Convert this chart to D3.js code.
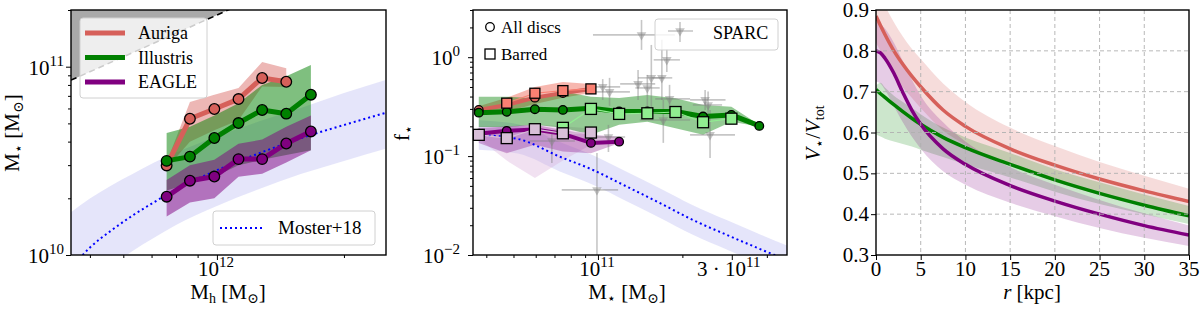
<!DOCTYPE html>
<html>
<head>
<meta charset="utf-8">
<script src="https://cdn.jsdelivr.net/npm/d3@7"></script>
<style>
body { margin: 0; background: #fff; }
svg text { font-family: "Liberation Serif", "DejaVu Serif", serif; fill: #000; }
</style>
</head>
<body>
<script>
// ---------- panel 1 : stellar mass vs halo mass ----------
const mhBins = [7.6e11, 8.63e11, 9.86e11, 1.125e12, 1.28e12, 1.46e12, 1.67e12];
const aurigaMs = [2.99e10, 5.29e10, 5.96e10, 6.73e10, 8.71e10, 8.32e10];
const aurigaMsLo = [2.9e10, 4.0e10, 4.6e10, 5.2e10, 7.85e10, 7.8e10];
const aurigaMsHi = [3.1e10, 6.5e10, 7.1e10, 7.7e10, 1.06e11, 9.8e10];
const illustrisMs = [3.16e10, 3.33e10, 4.18e10, 5.02e10, 5.89e10, 5.63e10, 7.1e10];
const illustrisMsLo = [2.2e10, 2.4e10, 2.6e10, 3.0e10, 3.2e10, 3.4e10, 3.6e10];
const illustrisMsHi = [4.45e10, 4.8e10, 5.5e10, 6.4e10, 8.0e10, 8.9e10, 1.02e11];
const eagleMs = [2.04e10, 2.48e10, 2.61e10, 3.23e10, 3.23e10, 3.91e10, 4.53e10];
const eagleMsLo = [1.6e10, 1.9e10, 2.0e10, 2.6e10, 2.7e10, 3.1e10, 3.6e10];
const eagleMsHi = [2.5e10, 3.0e10, 3.2e10, 3.9e10, 4.1e10, 4.8e10, 5.5e10];
const mosterMh = [4.47e11, 5.01e11, 5.62e11, 6.31e11, 7.08e11, 7.94e11, 1e12, 1.26e12, 1.58e12, 2e12, 2.51e12];
const mosterMs = [8.3e9, 1.1e10, 1.35e10, 1.62e10, 1.9e10, 2.21e10, 2.82e10, 3.47e10, 4.17e10, 4.9e10, 5.69e10];
const mosterMsLo = [5.37e9, 7.08e9, 8.71e9, 1.05e10, 1.23e10, 1.43e10, 1.82e10, 2.24e10, 2.69e10, 3.16e10, 3.67e10];
const mosterMsHi = [1.66e10, 2.0e10, 2.34e10, 2.69e10, 3.09e10, 3.47e10, 4.27e10, 5.13e10, 6.03e10, 7.24e10, 8.51e10];
const baryonFrac = 0.188;

// ---------- panel 2 : f_star vs stellar mass ----------
const msBins = [3.76e10, 4.73e10, 5.96e10, 7.5e10, 9.44e10, 1.19e11, 1.5e11, 1.89e11, 2.37e11, 2.99e11, 3.76e11];
const aurigaF = [0.293, 0.329, 0.39, 0.435, 0.478];
const aurigaFLo = [0.267, 0.28, 0.337, 0.39, 0.435];
const aurigaFHi = [0.32, 0.39, 0.5, 0.56, 0.537];
const aurigaBarF = [null, 0.343, 0.432, 0.459, 0.478];
const illustrisF = [0.275, 0.28, 0.298, 0.293, 0.305, 0.282, 0.282, 0.282, 0.251, 0.261, 0.202];
const illustrisFLo = [0.197, 0.197, 0.207, 0.193, 0.164, 0.207, 0.223, 0.191, 0.164, 0.223, 0.199];
const illustrisFHi = [0.399, 0.399, 0.385, 0.449, 0.399, 0.387, 0.415, 0.385, 0.329, 0.316, 0.207];
const illustrisBarF = [null, null, null, 0.193, 0.30, 0.267, 0.271, 0.279, 0.22, 0.239, null];
const eagleF = [0.168, 0.18, 0.186, 0.168, 0.136, 0.14];
const eagleFLo = [0.136, 0.107, 0.13, 0.111, 0.107, 0.135];
const eagleFHi = [0.191, 0.199, 0.207, 0.184, 0.164, 0.157];
const eagleBarF = [0.164, 0.152, 0.187, 0.17, 0.173];
const eagleBarFLo = [0.15, 0.09, 0.06, 0.09, 0.13];
const eagleBarFHi = [0.2, 0.2, 0.21, 0.2, 0.19];
const mosterMs2 = [3.76e10, 5.18e10, 7.31e10, 9.6e10, 1.27e11, 1.66e11, 2.18e11, 2.89e11, 3.7e11, 4.79e11];
const mosterF = [0.164, 0.149, 0.0987, 0.0724, 0.049, 0.0336, 0.0226, 0.0159, 0.0118, 0.0087];
const mosterFLo = [0.116, 0.106, 0.07, 0.0513, 0.0348, 0.0238, 0.016, 0.0113, 0.0084, 0.0062];
const mosterFHi = [0.231, 0.21, 0.139, 0.102, 0.069, 0.0474, 0.0319, 0.0224, 0.0166, 0.0123];
// SPARC galaxies with errors
const sparcMs = [1.43e11, 1.76e11, 1.55e11, 1.69e11, 1.39e11, 1.5e11, 1.8e11, 1.04e11, 1.1e11, 2.41e11, 2.47e11, 2.51e11, 9.92e10, 6.85e10, 1.09e11, 1.71e11];
const sparcMsLo = [9.6e10, 1.58e11, 1.39e11, 1.56e11, 1.2e11, 1.36e11, 1.6e11, 9.0e10, 9.76e10, 2.13e11, 2.18e11, 2.13e11, 7.43e10, 5.71e10, 9.76e10, 1.41e11];
const sparcMsHi = [1.88e11, 1.96e11, 1.72e11, 1.84e11, 1.6e11, 1.66e11, 2.13e11, 1.2e11, 1.3e11, 2.85e11, 2.77e11, 3.08e11, 1.18e11, 8.28e10, 1.25e11, 2.13e11];
const sparcF = [1.68, 0.94, 0.618, 0.618, 0.537, 0.489, 0.379, 0.501, 0.446, 0.37, 0.329, 0.164, 0.0455, 0.142, 0.156, 0.232];
const sparcFLo = [1.185, 0.71, 0.314, 0.37, 0.37, 0.261, 0.28, 0.37, 0.322, 0.293, 0.243, 0.0958, 0.005, 0.0853, 0.11, 0.136];
const sparcFHi = [2.38, 1.2, 1.33, 1.5, 0.744, 0.662, 0.525, 0.6, 0.618, 0.467, 0.45, 0.293, 0.1076, 0.171, 0.207, 0.37];

// ---------- panel 3 : V_star / V_tot vs radius ----------
const radii = [0, 0.5, 1, 2, 3, 4, 5, 7.5, 10, 15, 20, 25, 30, 35];
const aurigaV = [0.885, 0.862, 0.84, 0.80, 0.767, 0.738, 0.712, 0.655, 0.615, 0.56, 0.52, 0.486, 0.457, 0.431];
const aurigaVLo = [0.82, 0.80, 0.78, 0.74, 0.71, 0.685, 0.66, 0.605, 0.57, 0.52, 0.48, 0.447, 0.42, 0.40];
const aurigaVHi = [0.95, 0.93, 0.91, 0.87, 0.835, 0.805, 0.78, 0.72, 0.675, 0.612, 0.567, 0.528, 0.494, 0.462];
const illustrisV = [0.705, 0.695, 0.686, 0.668, 0.651, 0.635, 0.62, 0.588, 0.563, 0.522, 0.484, 0.451, 0.422, 0.396];
const illustrisVLo = [0.595, 0.59, 0.585, 0.578, 0.572, 0.566, 0.558, 0.54, 0.522, 0.49, 0.455, 0.425, 0.40, 0.376];
const illustrisVHi = [0.715, 0.722, 0.71, 0.69, 0.675, 0.66, 0.645, 0.612, 0.588, 0.55, 0.51, 0.478, 0.448, 0.42];
const eagleV = [0.80, 0.795, 0.782, 0.745, 0.698, 0.655, 0.62, 0.56, 0.522, 0.47, 0.432, 0.40, 0.372, 0.349];
const eagleVLo = [0.725, 0.72, 0.705, 0.665, 0.625, 0.59, 0.56, 0.505, 0.472, 0.428, 0.395, 0.366, 0.342, 0.322];
const eagleVHi = [0.87, 0.865, 0.855, 0.82, 0.775, 0.73, 0.69, 0.625, 0.578, 0.515, 0.472, 0.435, 0.402, 0.372];

const RED = "#d6605a", GREEN = "#008000", PURPLE = "#800080";

const svg = d3.select("body").append("svg")
    .attr("width", 1200)
    .attr("height", 311);

function clip(id, x0, x1, y0, y1) {
    svg.append("clipPath").attr("id", id)
        .append("rect").attr("x", x0).attr("y", y0).attr("width", x1 - x0).attr("height", y1 - y0);
    return svg.append("g").attr("clip-path", "url(#" + id + ")");
}

function ticks(g, axis, tr, values, size) {
    var a = g.append("g").attr("transform", tr)
        .call(axis.tickValues(values).tickSize(size).tickFormat(""));
    a.select(".domain").remove();
    a.selectAll(".tick line").attr("stroke", "#000").attr("stroke-width", 1);
    return a;
}

function powText(g, x, y, base, exp, anchor, size) {
    var t = g.append("text").attr("x", x).attr("y", y)
        .attr("text-anchor", anchor).attr("font-size", size || 21);
    t.append("tspan").text(base);
    t.append("tspan").attr("dy", -9).attr("font-size", 15).text(exp);
    return t;
}

function frame(x0, x1, y0, y1) {
    svg.append("rect").attr("x", x0).attr("y", y0)
        .attr("width", x1 - x0).attr("height", y1 - y0)
        .attr("fill", "none").attr("stroke", "#000").attr("stroke-width", 1.4);
}

function band(g, xs, lo, hi, x, y, color, op, curveType) {
    var area = d3.area()
        .defined((d, i) => lo[i] != null)
        .x((d, i) => x(xs[i]))
        .y0((d, i) => y(lo[i]))
        .y1((d, i) => y(hi[i]));
    if (curveType) area.curve(curveType);
    g.append("path").attr("d", area(lo))
        .attr("fill", color).attr("fill-opacity", op).attr("stroke", "none");
}

function curve(g, xs, ys, x, y, color, w, dash, curveType) {
    var line = d3.line()
        .defined(d => d != null)
        .x((d, i) => x(xs[i]))
        .y(d => y(d));
    if (curveType) line.curve(curveType);
    var p = g.append("path").attr("d", line(ys))
        .attr("fill", "none").attr("stroke", color).attr("stroke-width", w)
        .attr("stroke-linejoin", "round");
    if (dash) p.attr("stroke-dasharray", dash);
    return p;
}

function dots(g, xs, ys, x, y, fill, shape, r) {
    ys.forEach(function (v, i) {
        if (v == null) return;
        if (shape == "square") {
            g.append("rect").attr("x", x(xs[i]) - r).attr("y", y(v) - r)
                .attr("width", 2 * r).attr("height", 2 * r)
                .attr("fill", fill).attr("stroke", "#000").attr("stroke-width", 1.3);
        } else {
            g.append("circle").attr("cx", x(xs[i])).attr("cy", y(v)).attr("r", r)
                .attr("fill", fill).attr("stroke", "#000").attr("stroke-width", 1.3);
        }
    });
}

function label(x, y, parts, rotate) {
    var t = svg.append("text").attr("text-anchor", "middle").attr("font-size", 21)
        .attr("transform", "translate(" + x + "," + y + ")" + (rotate ? " rotate(-90)" : ""));
    parts.forEach(function (p) {
        var s = t.append("tspan").text(p[0]);
        if (p[1] == "sub") s.attr("font-size", 14).attr("dy", 4);
        if (p[1] == "back") s.attr("dy", -4);
        if (p[2]) s.attr("font-style", "italic");
    });
}

// ======================= PANEL 1 =======================
var x1 = d3.scaleLog().domain([4.51e11, 2.516e12]).range([71, 386]);
var y1 = d3.scaleLog().domain([1e10, 2.0e11]).range([255, 10]);
var g1 = clip("c1", 71, 386, 10, 255);

band(g1, mosterMh, mosterMsLo, mosterMsHi, x1, y1, "#b4b4f0", 0.35, d3.curveMonotoneX);

// region above the baryon fraction
var bx = [4.51e11, 2.0e11 / baryonFrac];
g1.append("path")
    .attr("d", "M" + x1(bx[0]) + "," + y1(baryonFrac * bx[0]) +
        "L" + x1(bx[1]) + "," + y1(2.0e11) + "L" + x1(bx[0]) + "," + y1(2.0e11) + "Z")
    .attr("fill", "#a9a9a9");
g1.append("line")
    .attr("x1", x1(bx[0])).attr("y1", y1(baryonFrac * bx[0]))
    .attr("x2", x1(2.516e12)).attr("y2", y1(baryonFrac * 2.516e12))
    .attr("stroke", "#000").attr("stroke-width", 1.5).attr("stroke-dasharray", "6,4");

band(g1, mhBins, aurigaMsLo, aurigaMsHi, x1, y1, RED, 0.45);
band(g1, mhBins, illustrisMsLo, illustrisMsHi, x1, y1, GREEN, 0.5);
band(g1, mhBins, eagleMsLo, eagleMsHi, x1, y1, PURPLE, 0.5);
curve(g1, mosterMh, mosterMs, x1, y1, "#0000ff", 2, "2,3", d3.curveMonotoneX);
curve(g1, mhBins, aurigaMs, x1, y1, RED, 5);
dots(g1, mhBins, aurigaMs, x1, y1, RED, "circle", 5.3);
curve(g1, mhBins, illustrisMs, x1, y1, GREEN, 5);
dots(g1, mhBins, illustrisMs, x1, y1, GREEN, "circle", 5.3);
curve(g1, mhBins, eagleMs, x1, y1, PURPLE, 5);
dots(g1, mhBins, eagleMs, x1, y1, PURPLE, "circle", 5.3);

ticks(svg, d3.axisBottom(x1), "translate(0,255)", [1e12], 5);
ticks(svg, d3.axisBottom(x1), "translate(0,255)", [5e11, 6e11, 7e11, 8e11, 9e11, 2e12], 3);
ticks(svg, d3.axisLeft(y1), "translate(71,0)", [1e10, 1e11], 5);
ticks(svg, d3.axisLeft(y1), "translate(71,0)", [2e10, 3e10, 4e10, 5e10, 6e10, 7e10, 8e10, 9e10, 2e11], 3);
powText(svg, x1(1e12) - 1, 276, "10", "12", "middle");
powText(svg, 64, y1(1e11) + 8, "10", "11", "end");
powText(svg, 64, y1(1e10) + 8, "10", "10", "end");

// legends panel 1
svg.append("rect").attr("x", 80).attr("y", 18).attr("width", 127).attr("height", 80).attr("rx", 3)
    .attr("fill", "#fff").attr("fill-opacity", 0.8).attr("stroke", "#d0d0d0");
[["Auriga", RED], ["Illustris", GREEN], ["EAGLE", PURPLE]].forEach(function (d, i) {
    var yy = 33 + i * 24.5;
    svg.append("line").attr("x1", 85).attr("x2", 125).attr("y1", yy).attr("y2", yy)
        .attr("stroke", d[1]).attr("stroke-width", 5);
    svg.append("text").attr("x", 138).attr("y", yy + 6).attr("font-size", 18).text(d[0]);
});
svg.append("rect").attr("x", 213).attr("y", 211).attr("width", 162).attr("height", 34).attr("rx", 3)
    .attr("fill", "#fff").attr("fill-opacity", 0.8).attr("stroke", "#d0d0d0");
svg.append("line").attr("x1", 220).attr("x2", 262).attr("y1", 228).attr("y2", 228)
    .attr("stroke", "#0000ff").attr("stroke-width", 2).attr("stroke-dasharray", "2,3");
svg.append("text").attr("x", 278).attr("y", 234).attr("font-size", 19).text("Moster+18");

frame(71, 386, 10, 255);
label(228, 299, [["M"], ["h", "sub"], [" [M", "back"], ["⊙", "sub"], ["]", "back"]]);
label(19, 133, [["M"], ["⋆", "sub"], [" [M", "back"], ["⊙", "sub"], ["]", "back"]], true);

// ======================= PANEL 2 =======================
var x2 = d3.scaleLog().domain([3.586e10, 4.72e11]).range([473, 787]);
var y2 = d3.scaleLog().domain([0.01, 3.0]).range([255, 10]);
var g2 = clip("c2", 473, 787, 10, 255);

band(g2, mosterMs2, mosterFLo, mosterFHi, x2, y2, "#b4b4f0", 0.35, d3.curveMonotoneX);
band(g2, msBins, eagleBarFLo, eagleBarFHi, x2, y2, "#d8a8d8", 0.35);
band(g2, msBins, aurigaFLo, aurigaFHi, x2, y2, "#f07060", 0.5);
band(g2, msBins, illustrisFLo, illustrisFHi, x2, y2, GREEN, 0.42);
band(g2, msBins, eagleFLo, eagleFHi, x2, y2, PURPLE, 0.3);

// SPARC error bars
sparcMs.forEach(function (m, i) {
    var gs = g2.append("g").attr("stroke", "#808080").attr("stroke-opacity", 0.45).attr("stroke-width", 1.6);
    gs.append("line").attr("x1", x2(sparcMsLo[i])).attr("x2", x2(sparcMsHi[i]))
        .attr("y1", y2(sparcF[i])).attr("y2", y2(sparcF[i]));
    gs.append("line").attr("x1", x2(m)).attr("x2", x2(m))
        .attr("y1", y2(sparcFLo[i])).attr("y2", y2(sparcFHi[i]));
    g2.append("path").attr("d", d3.symbol(d3.symbolTriangle, 40)())
        .attr("transform", "translate(" + x2(m) + "," + y2(sparcF[i]) + ") rotate(180)")
        .attr("fill", "#808080").attr("fill-opacity", 0.45);
});

curve(g2, mosterMs2, mosterF, x2, y2, "#0000ff", 2, "2,3", d3.curveMonotoneX);
curve(g2, msBins, aurigaF, x2, y2, RED, 4);
curve(g2, msBins, illustrisF, x2, y2, GREEN, 5);
curve(g2, msBins, eagleF, x2, y2, PURPLE, 4);
curve(g2, msBins, aurigaBarF, x2, y2, "#fa8072", 1.2);
curve(g2, msBins, illustrisBarF, x2, y2, "#90ee90", 1.2);
curve(g2, msBins, eagleBarF, x2, y2, "#d8bfd8", 1.2);
dots(g2, msBins, aurigaF, x2, y2, RED, "circle", 4.3);
dots(g2, msBins, illustrisF, x2, y2, GREEN, "circle", 4.3);
dots(g2, msBins, eagleF, x2, y2, PURPLE, "circle", 4.3);
dots(g2, msBins, aurigaBarF, x2, y2, "#fa8072", "square", 5);
dots(g2, msBins, illustrisBarF, x2, y2, "#90ee90", "square", 5.5);
dots(g2, msBins, eagleBarF, x2, y2, "#d8bfd8", "square", 5.5);

ticks(svg, d3.axisBottom(x2), "translate(0,255)", [1e11, 3e11], 5);
ticks(svg, d3.axisBottom(x2), "translate(0,255)", [4e10, 5e10, 6e10, 7e10, 8e10, 9e10, 2e11, 4e11], 3);
ticks(svg, d3.axisLeft(y2), "translate(473,0)", [0.01, 0.1, 1], 5);
ticks(svg, d3.axisLeft(y2), "translate(473,0)", [0.02, 0.03, 0.04, 0.05, 0.06, 0.07, 0.08, 0.09,
    0.2, 0.3, 0.4, 0.5, 0.6, 0.7, 0.8, 0.9, 2, 3], 3);
powText(svg, x2(1e11) - 1, 276, "10", "11", "middle");
powText(svg, x2(3e11) - 3, 276, "3 · 10", "11", "middle");
powText(svg, 460, y2(1) + 8, "10", "0", "end");
powText(svg, 460, y2(0.1) + 8, "10", "−1", "end");
powText(svg, 460, y2(0.01) + 8, "10", "−2", "end");

// legends panel 2
svg.append("circle").attr("cx", 490).attr("cy", 27).attr("r", 4.3)
    .attr("fill", "none").attr("stroke", "#000").attr("stroke-width", 1.3);
svg.append("text").attr("x", 501).attr("y", 33).attr("font-size", 17).text("All discs");
svg.append("rect").attr("x", 485).attr("y", 49).attr("width", 10).attr("height", 10)
    .attr("fill", "none").attr("stroke", "#000").attr("stroke-width", 1.3);
svg.append("text").attr("x", 501).attr("y", 60).attr("font-size", 17).text("Barred");
svg.append("rect").attr("x", 655).attr("y", 19).attr("width", 123).attr("height", 31).attr("rx", 3)
    .attr("fill", "#fff").attr("fill-opacity", 0.8).attr("stroke", "#d0d0d0");
var lg = svg.append("g").attr("stroke", "#808080").attr("stroke-opacity", 0.45).attr("stroke-width", 1.6);
lg.append("line").attr("x1", 668).attr("x2", 693).attr("y1", 31).attr("y2", 31);
lg.append("line").attr("x1", 680).attr("x2", 680).attr("y1", 22).attr("y2", 42);
svg.append("path").attr("d", d3.symbol(d3.symbolTriangle, 40)())
    .attr("transform", "translate(680,31) rotate(180)").attr("fill", "#808080").attr("fill-opacity", 0.45);
svg.append("text").attr("x", 713).attr("y", 39).attr("font-size", 18).text("SPARC");

frame(473, 787, 10, 255);
label(627, 299, [["M"], ["⋆", "sub"], [" [M", "back"], ["⊙", "sub"], ["]", "back"]]);
label(409, 133, [["f"], ["⋆", "sub"]], true);

// ======================= PANEL 3 =======================
var x3 = d3.scaleLinear().domain([0, 35]).range([876, 1189]);
var y3 = d3.scaleLinear().domain([0.3, 0.9]).range([255, 10]);
var g3 = clip("c3", 876, 1189, 10, 255);

var grid = svg.append("g").attr("stroke", "#b0b0b0").attr("stroke-width", 0.9).attr("stroke-dasharray", "4,3");
d3.range(5, 35, 5).forEach(v => grid.append("line")
    .attr("x1", x3(v)).attr("x2", x3(v)).attr("y1", 10).attr("y2", 255));
d3.range(0.4, 0.85, 0.1).forEach(v => grid.append("line")
    .attr("x1", 876).attr("x2", 1189).attr("y1", y3(v)).attr("y2", y3(v)));

band(g3, radii, aurigaVLo, aurigaVHi, x3, y3, RED, 0.22, d3.curveMonotoneX);
band(g3, radii, illustrisVLo, illustrisVHi, x3, y3, GREEN, 0.2, d3.curveMonotoneX);
band(g3, radii, eagleVLo, eagleVHi, x3, y3, PURPLE, 0.2, d3.curveMonotoneX);
curve(g3, radii, aurigaV, x3, y3, RED, 3.5, null, d3.curveMonotoneX);
curve(g3, radii, illustrisV, x3, y3, GREEN, 3.5, null, d3.curveMonotoneX);
curve(g3, radii, eagleV, x3, y3, PURPLE, 3.5, null, d3.curveMonotoneX);

ticks(svg, d3.axisBottom(x3), "translate(0,255)", d3.range(0, 36, 5), 5);
ticks(svg, d3.axisLeft(y3), "translate(876,0)", [0.3, 0.4, 0.5, 0.6, 0.7, 0.8, 0.9], 5);
d3.range(0, 36, 5).forEach(v => svg.append("text").attr("x", x3(v)).attr("y", 276)
    .attr("text-anchor", "middle").attr("font-size", 21).text(v));
[0.3, 0.4, 0.5, 0.6, 0.7, 0.8, 0.9].forEach(v => svg.append("text").attr("x", 869).attr("y", y3(v) + 7)
    .attr("text-anchor", "end").attr("font-size", 21).text(v.toFixed(1)));

frame(876, 1189, 10, 255);
label(1032, 299, [["r", null, true], [" [kpc]"]]);
label(820, 133, [["V", null, true], ["⋆", "sub"], ["/", "back"], ["V", null, true], ["tot", "sub"]], true);
</script>
</body>
</html>
